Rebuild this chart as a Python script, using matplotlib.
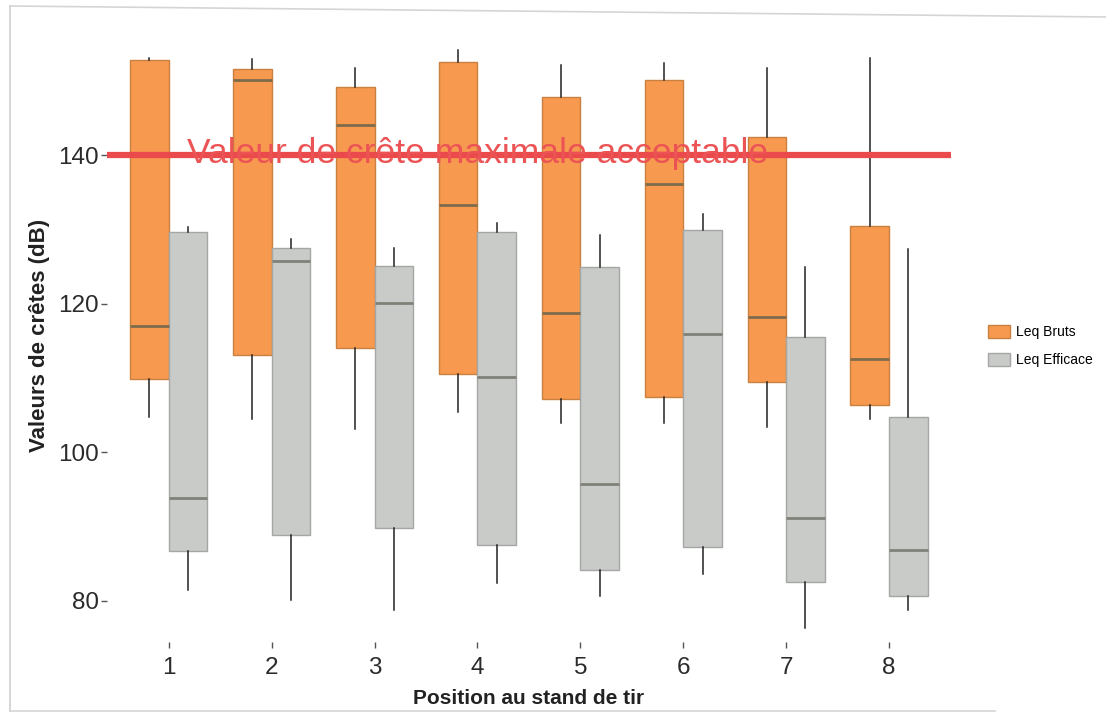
import numpy as np
import matplotlib
matplotlib.use("Agg")
import matplotlib.pyplot as plt
from matplotlib.patches import Patch
from matplotlib.lines import Line2D

plt.rcParams['font.family'] = ['Liberation Sans', 'DejaVu Sans']

# positions au stand de tir
positions = [1, 2, 3, 4, 5, 6, 7, 8]
series = ['Leq Bruts', 'Leq Efficace']

# Leq Bruts
brut_whislo = [104.7, 104.5, 103.1, 105.4, 103.9, 104.0, 103.4, 104.5]
brut_q1 = [109.8, 113.1, 114.1, 110.5, 107.2, 107.5, 109.5, 106.4]
brut_med = [117.0, 150.1, 144.1, 133.3, 118.8, 136.1, 118.2, 112.6]
brut_q3 = [152.8, 151.6, 149.2, 152.5, 147.8, 150.1, 142.4, 130.4]
brut_whishi = [153.1, 153.0, 151.7, 154.1, 152.1, 152.4, 151.7, 153.1]

# Leq Efficace
eff_whislo = [81.5, 80.1, 78.8, 82.4, 80.7, 83.6, 76.4, 78.8]
eff_q1 = [86.7, 88.9, 89.8, 87.5, 84.2, 87.2, 82.6, 80.7]
eff_med = [93.9, 125.8, 120.1, 110.1, 95.7, 115.9, 91.2, 86.9]
eff_q3 = [129.7, 127.5, 125.1, 129.6, 124.9, 129.9, 115.5, 104.7]
eff_whishi = [130.3, 128.7, 127.5, 130.8, 129.2, 132.1, 124.9, 127.4]

seuil = 140
seuil_label = "Valeur de crête maximale acceptable"

orange = '#F7994F'
gris = '#C9CBC8'


def make_stats(lo, q1, med, q3, hi):
    return [dict(whislo=a, q1=b, med=c, q3=d, whishi=e, fliers=[])
            for a, b, c, d, e in zip(lo, q1, med, q3, hi)]


fig = plt.figure(figsize=(11.06, 7.21), dpi=100)
ax = fig.add_axes([0.0967, 0.110, 0.763, 0.850])

pos = np.array(positions, dtype=float)
w = 0.375

ax.bxp(make_stats(brut_whislo, brut_q1, brut_med, brut_q3, brut_whishi),
       positions=pos - w / 2, widths=w, showcaps=False, showfliers=False,
       patch_artist=True,
       boxprops=dict(facecolor=orange, edgecolor='#C98040', linewidth=1),
       medianprops=dict(color='#7E6B4C', linewidth=2),
       whiskerprops=dict(color='#222222', linewidth=1.1))
ax.bxp(make_stats(eff_whislo, eff_q1, eff_med, eff_q3, eff_whishi),
       positions=pos + w / 2, widths=w, showcaps=False, showfliers=False,
       patch_artist=True,
       boxprops=dict(facecolor=gris, edgecolor='#A5A7A4', linewidth=1),
       medianprops=dict(color='#7F8078', linewidth=2),
       whiskerprops=dict(color='#222222', linewidth=1.1))

# ligne de seuil
ax.axhline(seuil, color='#EA4A4C', linewidth=4.5, zorder=5)
ax.text(4, 138.9, seuil_label, color='#EC5355', fontsize=25.5,
        ha='center', va='baseline', zorder=6)

ax.set_xlim(0.4, 8.6)
ax.set_ylim(74.5, 157)
ax.set_xticks(positions)
ax.set_xticklabels([str(p) for p in positions])
ax.set_yticks([80, 100, 120, 140])

for s in ax.spines.values():
    s.set_visible(False)
ax.tick_params(axis='both', colors='#555555', labelcolor='#2b2b2b',
               labelsize=17.5, length=4, width=1)
ax.tick_params(axis='y', pad=2)
ax.tick_params(axis='x', pad=7)

ax.set_xlabel("Position au stand de tir", fontsize=15, fontweight='bold',
              color='#222222', labelpad=7)
ax.set_ylabel("Valeurs de crêtes (dB)", fontsize=16, fontweight='bold',
              color='#222222', labelpad=6)

handles = [Patch(facecolor=orange, edgecolor='#C98040', label=series[0]),
           Patch(facecolor=gris, edgecolor='#A5A7A4', label=series[1])]
fig.legend(handles=handles, loc='center left', bbox_to_anchor=(0.882, 0.52),
           frameon=False, fontsize=10, handlelength=1.6, handleheight=1.1,
           labelspacing=1.0, handletextpad=0.4)

# bord de la page scannée
fig.add_artist(Line2D([10 / 1106, 10 / 1106], [1 - 6 / 721, 1 - 711 / 721],
                      transform=fig.transFigure, color='#CFCFCF', lw=1.2))
fig.add_artist(Line2D([10 / 1106, 1], [1 - 6 / 721, 1 - 17 / 721],
                      transform=fig.transFigure, color='#D5D5D5', lw=1.2))
fig.add_artist(Line2D([10 / 1106, 0.9], [1 - 711 / 721, 1 - 711 / 721],
                      transform=fig.transFigure, color='#D5D5D5', lw=1.2))

fig.savefig("out.png", dpi=100)
